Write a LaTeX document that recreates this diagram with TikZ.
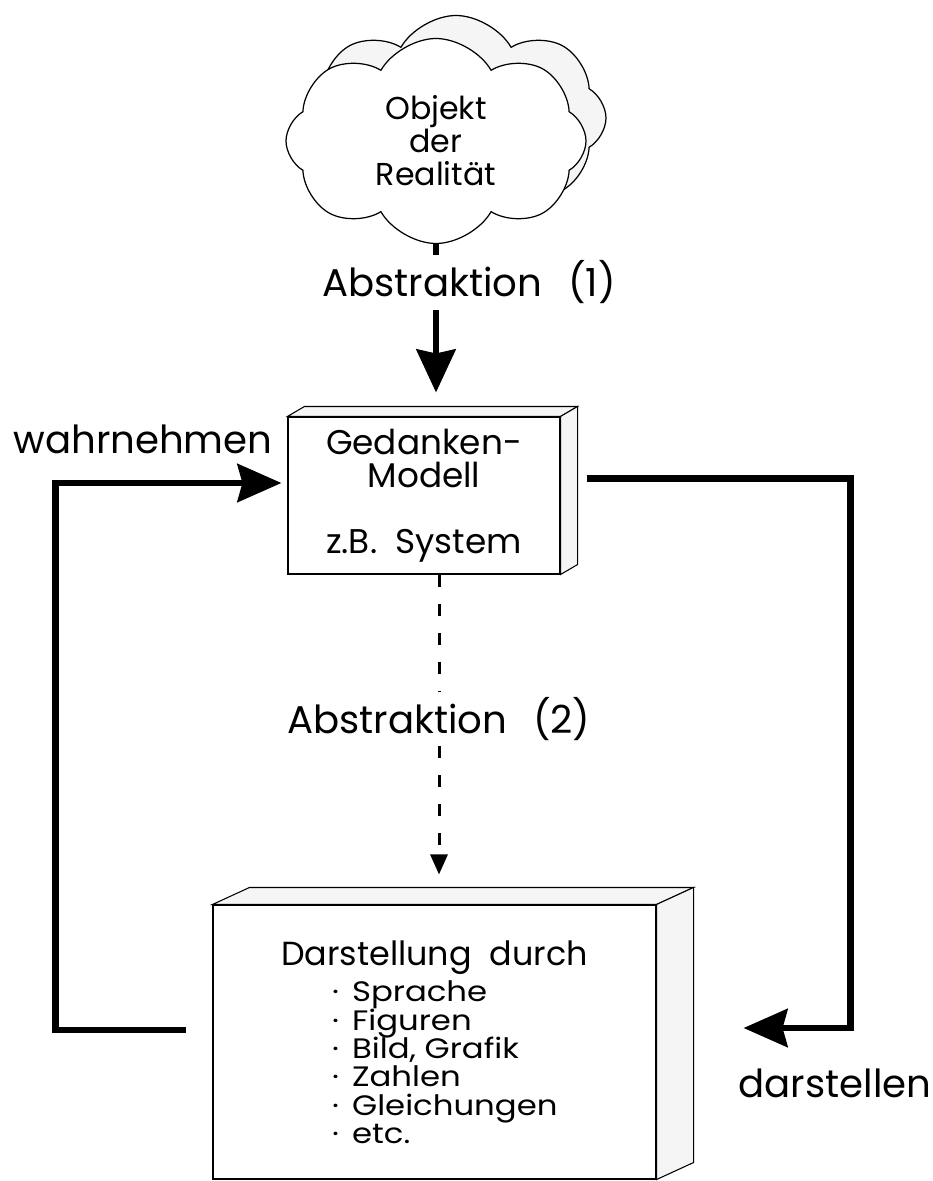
\documentclass[tikz,border=0pt]{standalone}
\usepackage{fontspec}
\setmainfont{Poppins}
\newfontfamily\itemfont{Poppins}[FakeStretch=1.15]
\usetikzlibrary{shapes.symbols,arrows.meta}

\begin{document}
\begin{tikzpicture}[x=0.2mm,y=-0.2mm]
  \tikzstyle{box}=[draw, line width=0.6pt, fill=white, inner sep=0pt]
  \tikzstyle{face}=[draw, line width=0.6pt, fill=black!4]
  \tikzstyle{wolke}=[cloud, cloud puffs=8, cloud puff arc=120, cloud ignores aspect, draw, line width=0.7pt, minimum width=60mm, minimum height=41mm]
  \tikzstyle{lbl}=[font=\fontsize{22}{26}\selectfont, anchor=base]
  \tikzstyle{fat}=[line width=1.3mm]
  \tikzstyle{bighead}=[-{Stealth[length=8.8mm, width=7.6mm, inset=1mm]}]
  \newcommand{\punkt}{\hspace*{10.2mm}\textperiodcentered\hspace{2.6mm}}

  \useasboundingbox (0,0) rectangle (932,1181);

  % Wolke
  \node[wolke, fill=black!4] (objback) at (456,118) {};
  \node[wolke, fill=white, align=center, font=\fontsize{18}{18.8}\selectfont] (obj) at (436,141) {Objekt\\der\\Realität};

  % Boxen
  \node[box, minimum width=54.4mm, minimum height=31.4mm, align=center, font=\fontsize{19.5}{18.8}\selectfont] (model) at (424,495.5) {Gedanken-\\Modell\\[18.8pt]z.B.~~System};
  \draw[face] (model.north west) -- ++(17,-10) -- ([shift={(17,-10)}]model.north east) -- (model.north east) -- cycle;
  \draw[face] (model.north east) -- ++(17,-10) -- ([shift={(17,-10)}]model.south east) -- (model.south east) -- cycle;

  \node[box, minimum width=88.6mm, minimum height=54.8mm, align=left, font={\itemfont\fontsize{16}{16.1}\selectfont\lineskiplimit=-20pt}] (repr) at (434.5,1042) {{\normalfont\fontsize{19}{16.1}\selectfont Darstellung~~durch}\\[4.9pt]
    \punkt Sprache\\
    \punkt Figuren\\
    \punkt Bild,~Grafik\\
    \punkt Zahlen\\
    \punkt Gleichungen\\
    \punkt etc.};
  \draw[face] (repr.north west) -- ++(37,-17) -- ([shift={(37,-17)}]repr.north east) -- (repr.north east) -- cycle;
  \draw[face] (repr.north east) -- ++(37,-17) -- ([shift={(37,-17)}]repr.south east) -- (repr.south east) -- cycle;

  % Abstraktion (1)
  \node[lbl] (abs1) at (469,297) {Abstraktion\hspace{0.4em} (1)};
  \draw[fat] (obj.south) -- (obj.south |- abs1.north);
  \draw[fat, -{Stealth[length=8.6mm, width=7.8mm, inset=0.8mm]}, shorten >=4.8mm] (abs1.south -| obj.south) -- (model.north -| obj.south);

  % Abstraktion (2)
  \node[lbl] (abs2) at (439,733) {Abstraktion\hspace{0.4em} (2)};
  \draw[line width=0.6mm, dash pattern=on 2.4mm off 3.4mm] (model.south -| abs2.north) -- (abs2.north);
  \draw[line width=0.6mm, dash pattern=on 2.4mm off 3.4mm, -{Triangle[length=4mm, width=3.4mm]}, shorten >=6mm] (abs2.south) -- (repr.north -| abs2.south);

  % wahrnehmen
  \node[lbl] (wahr) at (143,453) {wahrnehmen};
  \draw[fat, bighead] ([shift={(-26,-12)}]repr.west) -| ([shift={(-232,-12.5)}]model.west) -- ([shift={(-6,-12.5)}]model.west);

  % darstellen
  \node[lbl] (darst) at (835,1097) {darstellen};
  \draw[fat, bighead] ([shift={(26,-17)}]model.east) -| ([shift={(194,-14)}]repr.east) -- ([shift={(87,-14)}]repr.east);
\end{tikzpicture}
\end{document}
